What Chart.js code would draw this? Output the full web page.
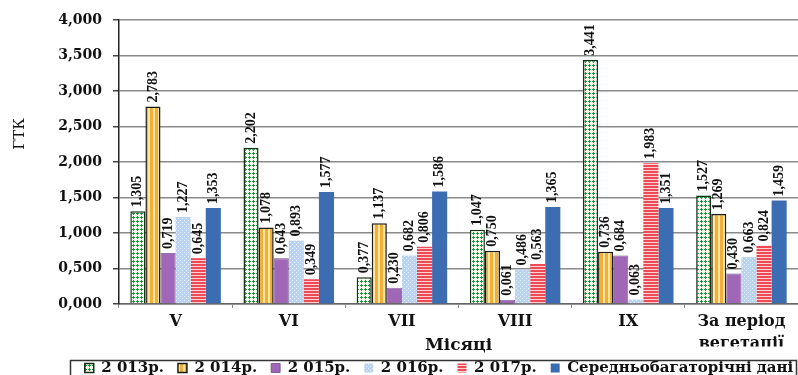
<!DOCTYPE html>
<html><head><meta charset="utf-8">
<script src="https://cdn.jsdelivr.net/npm/chart.js@4.4.0/dist/chart.umd.min.js"></script>
<style>html,body{margin:0;padding:0;background:#fff;} #wrap{width:798px;height:375px;position:relative;}</style>
</head><body><div id="wrap"><canvas id="c" width="798" height="375"></canvas></div>
<script>
const categories = ['V', 'VI', 'VII', 'VIII', 'IX', ['За період', 'вегетації']];
const seriesNames = ['2 013р.', '2 014р.', '2 015р.', '2 016р.', '2 017р.', 'Середньобагаторічні дані'];
const values2013 = [1.305, 2.202, 0.377, 1.047, 3.441, 1.527];
const values2014 = [2.783, 1.078, 1.137, 0.750, 0.736, 1.269];
const values2015 = [0.719, 0.643, 0.230, 0.061, 0.684, 0.430];
const values2016 = [1.227, 0.893, 0.682, 0.486, 0.063, 0.663];
const values2017 = [0.645, 0.349, 0.806, 0.563, 1.983, 0.824];
const valuesAvg  = [1.353, 1.577, 1.586, 1.365, 1.351, 1.459];
const yMin = 0, yMax = 4, yStep = 0.5;
const yTitle = 'ГТК';
const xTitle = 'Місяці';

const canvas = document.getElementById('c');
const mainCtx = canvas.getContext('2d');
function makePattern(w, h, draw) {
  const t = document.createElement('canvas');
  t.width = w; t.height = h;
  const g = t.getContext('2d');
  draw(g, w, h);
  return mainCtx.createPattern(t, 'repeat');
}
const pat2013 = makePattern(4, 4, (g, w, h) => {
  g.fillStyle = '#f4f8ec'; g.fillRect(0, 0, w, h);
  g.fillStyle = '#1f9440';
  g.fillRect(1, 0, 1, 3); g.fillRect(0, 1, 3, 1);
});
const pat2014 = makePattern(5, 5, (g, w, h) => {
  g.fillStyle = '#f2ae38'; g.fillRect(0, 0, w, h);
  g.fillStyle = '#fbe7a0'; g.fillRect(3, 0, 2, h);
});
const pat2016 = makePattern(4, 4, (g, w, h) => {
  g.fillStyle = '#bad3ee'; g.fillRect(0, 0, w, h);
  g.fillStyle = '#e6f0fb'; g.fillRect(0, 0, 1, 1); g.fillRect(2, 2, 1, 1);
});
const pat2017 = makePattern(4, 3, (g, w, h) => {
  g.fillStyle = '#ee4a55'; g.fillRect(0, 0, w, h);
  g.fillStyle = '#fcd3d3'; g.fillRect(0, 2, w, 1);
});

function fmt(v, d) { return v.toFixed(d).replace('.', ','); }

const labelPlugin = {
  id: 'vlabels',
  afterDatasetsDraw(chart) {
    const ctx = chart.ctx;
    ctx.save();
    ctx.font = 'bold 14px "Liberation Serif"';
    ctx.fillStyle = '#111';
    ctx.textAlign = 'left';
    ctx.textBaseline = 'middle';
    chart.data.datasets.forEach((ds, i) => {
      const meta = chart.getDatasetMeta(i);
      meta.data.forEach((bar, j) => {
        const t = fmt(ds.data[j], 3);
        ctx.save();
        ctx.translate(bar.x, bar.y - 4);
        ctx.rotate(-Math.PI / 2);
        ctx.fillText(t, 0, 0);
        ctx.restore();
      });
    });
    ctx.restore();
  }
};

const decorPlugin = {
  id: 'decor',
  afterLayout(chart) {
    const lg = chart.legend;
    if (!lg) return;
    const w = lg.right - lg.left;
    lg.left = 439 - w / 2;
    lg.right = 439 + w / 2;
  },
  afterDraw(chart) {
    const ctx = chart.ctx;
    ctx.save();
    ctx.strokeStyle = '#333';
    ctx.lineWidth = 1.5;
    ctx.strokeRect(70.5, 360.5, 726, 30);
    ctx.fillStyle = '#111';
    ctx.font = '15px "DejaVu Serif"';
    ctx.textAlign = 'center';
    ctx.textBaseline = 'middle';
    ctx.translate(20, 134);
    ctx.rotate(-Math.PI / 2);
    ctx.fillText(yTitle, 0, 0);
    ctx.restore();
  }
};

const common = { categoryPercentage: 0.8, barPercentage: 1.0, borderSkipped: 'bottom' };

new Chart(canvas, {
  type: 'bar',
  data: {
    labels: categories,
    datasets: [
      { label: seriesNames[0], data: values2013, backgroundColor: pat2013, borderColor: '#17301c', borderWidth: 1.5, ...common },
      { label: seriesNames[1], data: values2014, backgroundColor: pat2014, borderColor: '#1a1a1a', borderWidth: 1.5, ...common },
      { label: seriesNames[2], data: values2015, backgroundColor: '#a167b7', borderColor: '#6e4a80', borderWidth: 0.8, ...common },
      { label: seriesNames[3], data: values2016, backgroundColor: pat2016, borderWidth: 0, ...common },
      { label: seriesNames[4], data: values2017, backgroundColor: pat2017, borderWidth: 0, ...common },
      { label: seriesNames[5], data: valuesAvg, backgroundColor: '#3c6db2', borderWidth: 0, ...common }
    ]
  },
  options: {
    responsive: false,
    animation: false,
    devicePixelRatio: 1,
    layout: { padding: { top: 20, left: 7, right: -6, bottom: -10.5 } },
    plugins: {
      tooltip: { enabled: false },
      legend: {
        display: true,
        position: 'bottom',
        labels: {
          boxWidth: 9, boxHeight: 9, padding: 14, color: '#111',
          font: { family: '"DejaVu Serif"', size: 15, weight: 'bold' }
        }
      }
    },
    scales: {
      x: {
        grid: { drawOnChartArea: false, drawTicks: true, tickLength: 4, color: '#888', offset: true },
        border: { display: true, color: '#666', width: 1.5 },
        ticks: { color: '#111', padding: 3, maxRotation: 0, font: { family: '"DejaVu Serif"', size: 16, weight: 'bold', lineHeight: 1.35 } },
        title: { display: true, text: xTitle, color: '#111', padding: { top: 0, bottom: -9.5 }, font: { family: '"DejaVu Serif"', size: 17, weight: 'bold', lineHeight: 1.2 } },
        afterFit(scale) { scale.height = 42.5; }
      },
      y: {
        min: yMin, max: yMax,
        grid: { color: '#8a8a8a', lineWidth: 1.5, tickLength: 6, tickColor: '#444' },
        border: { display: true, color: '#222', width: 1.5 },
        ticks: { stepSize: yStep, color: '#111', padding: 11, callback: v => fmt(v, 3), font: { family: '"DejaVu Serif"', size: 14, weight: 'bold' } },
        title: { display: false },
        afterFit(scale) { scale.width = 112; }
      }
    }
  },
  plugins: [labelPlugin, decorPlugin]
});
</script>
</body></html>
